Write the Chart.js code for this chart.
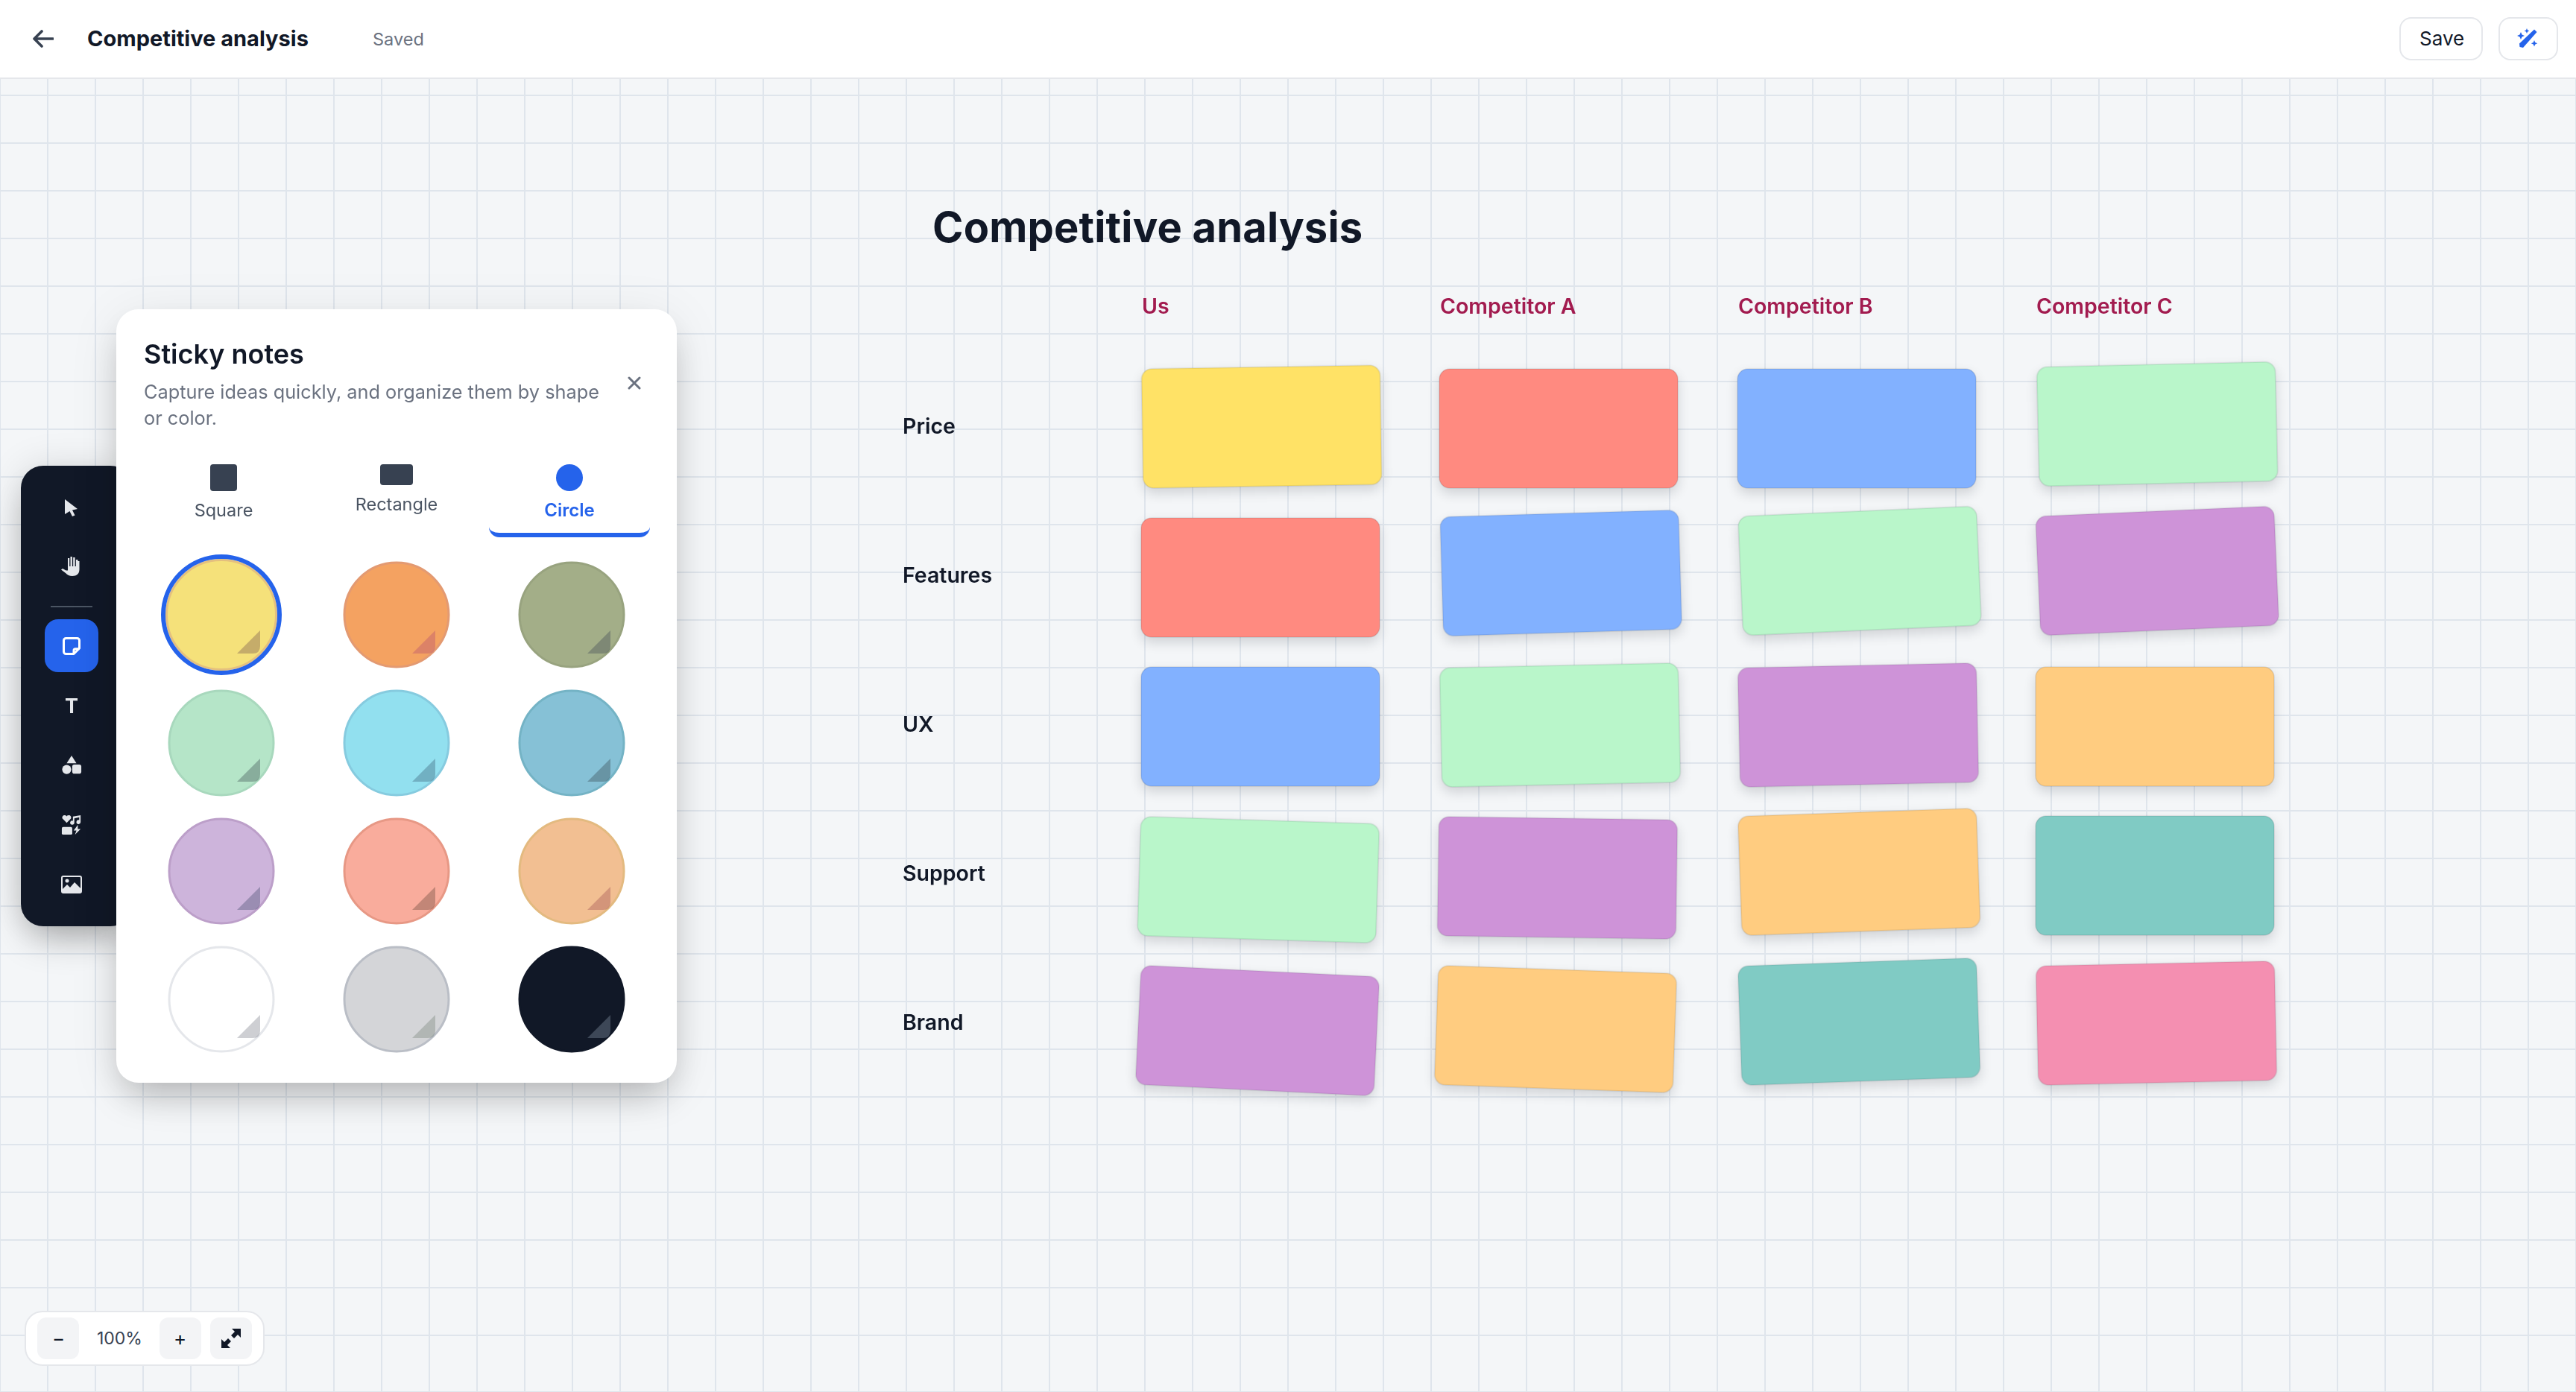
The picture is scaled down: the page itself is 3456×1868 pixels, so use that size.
<!DOCTYPE html>
<html>
<head>
<meta charset="utf-8">
<title>Competitive analysis</title>
<script src="https://cdn.jsdelivr.net/npm/chart.js@4"></script>
<style>
html, body { margin: 0; padding: 0; background: #f4f6f8; overflow: hidden; font-family: Inter, sans-serif; }
#stage { position: relative; width: 3456px; height: 1868px; overflow: hidden; }
#stage div, #stage span, #stage svg { position: absolute; }
#board { position: absolute; left: 0; top: 0; }
#topbar { left: 0; top: 0; width: 3456px; height: 104px; background: #fff; border-bottom: 2px solid #e5e7eb; }
.t { white-space: nowrap; line-height: 1; }
#panel { left: 156px; top: 415px; width: 752px; height: 1038px; background: #fff; border-radius: 30px; box-shadow: 0 25px 50px -12px rgba(0,0,0,.25), 0 10px 70px rgba(0,0,0,.08); }
#tools { left: 28px; top: 625px; width: 150px; height: 618px; background: #111827; border-radius: 30px; box-shadow: 0 25px 50px -12px rgba(0,0,0,.3), 0 0 50px rgba(0,0,0,.12); }
#swatchCanvas { position: absolute; left: 0; top: 315px; }
.btn { background: #fff; border: 2px solid #e5e7eb; border-radius: 16px; box-sizing: border-box; }
.zbtn { background: #f3f4f6; border-radius: 12px; width: 56px; height: 56px; top: 7px; }
</style>
</head>
<body>
<div id="stage">
  <canvas id="board" width="3456" height="1868"></canvas>

  <div class="t" style="left:1251px;top:277px;font-size:56px;font-weight:700;color:#111827;letter-spacing:0.2px" id="boardTitle">Competitive analysis</div>

  <div id="topbar">
    <svg style="left:44px;top:40px" width="28" height="24" viewBox="0 0 28 24" fill="none" stroke="#374151" stroke-width="3.6" stroke-linecap="round" stroke-linejoin="round"><path d="M27 12H3M12 2L2 12l10 10"/></svg>
    <span class="t" style="left:117px;top:37px;font-size:29px;font-weight:700;color:#111827">Competitive analysis</span>
    <span class="t" style="left:500px;top:41px;font-size:23.500px;color:#6b7280">Saved</span>
    <div class="btn" style="left:3219px;top:23px;width:112px;height:58px"></div>
    <span class="t" style="left:3246px;top:39px;font-size:26px;color:#111827">Save</span>
    <div class="btn" style="left:3352px;top:23px;width:80px;height:58px"></div>
    <svg style="left:3376px;top:37px" width="30" height="30" viewBox="0 0 30 30" fill="#2563eb"><path d="M24 2.5l3.5 3.5L9 27l-4.5-1-.5-4.500z"/><path d="M6 6l1.5 3.5L11 11l-3.500 1.500L6 16l-1.500-3.500L1 11l3.500-1.500zM14 1l1 2.500L17.500 4.500 15 5.500 14 8l-1-2.500-2.500-1 2.500-1zM24 17l1.300 3 3 1.300-3 1.300-1.300 3-1.300-3-3-1.300 3-1.300z"/></svg>
  </div>

  <div id="tools">
    <svg style="left:58px;top:44px" width="20" height="26" viewBox="0 0 20 26" fill="#e5e7eb"><path d="M1 1l17 13-7 1.500 3.500 7-3.500 1.500-3.500-7L1 21z"/></svg>
    <svg style="left:54px;top:121px" width="28" height="28" viewBox="0 0 28 28" fill="#e5e7eb"><path d="M9 3h2.200v11h1.300V1h2.400v13h1.300V2h2.400v12h1.300V5h2.600v2h2v11c0 6-3.500 9-9.500 9-4 0-6.500-1.500-9-4L0 18.500 2 17l4.500 2.500H9z"/></svg>
    <div style="left:40px;top:188px;width:56px;height:2px;background:#4b5563"></div>
    <div style="left:32px;top:206px;width:72px;height:71px;background:#2563eb;border-radius:18px"></div>
    <svg style="left:56px;top:230px" width="24" height="24" viewBox="0 0 32 32" fill="none" stroke="#fff" stroke-width="4" stroke-linejoin="round"><path d="M6 2h20a4 4 0 0 1 4 4v14l-10 10H6a4 4 0 0 1-4-4V6a4 4 0 0 1 4-4z"/><path d="M20 30v-6a3 3 0 0 1 3-3h7"/></svg>
    <span class="t" style="left:59px;top:309px;font-size:27px;font-weight:700;color:#e5e7eb">T</span>
    <svg style="left:54px;top:388px" width="28" height="28" viewBox="0 0 28 30" fill="#e5e7eb"><path d="M14 1l7 11H7z"/><circle cx="7" cy="21" r="6.500"/><rect x="15" y="14" width="13" height="13" rx="3"/></svg>
    <svg style="left:54px;top:468px" width="28" height="28" viewBox="0 0 28 30" fill="#e5e7eb"><path d="M7 12L1 6c-1-2 0-5 3-5 2 0 3 1 3 2 0-1 1-2 3-2 3 0 4 3 3 5z"/><path d="M16 3l11-2v10a3 3 0 1 1-2-3V4l-7 1.500V12a3 3 0 1 1-2-3z"/><rect x="0" y="18" width="15" height="11" rx="2"/><path d="M23 15l-6 8h4l-2 6 8-8h-4z"/></svg>
    <svg style="left:54px;top:550px" width="28" height="24" viewBox="0 0 28 24" fill="#e5e7eb"><path fill-rule="evenodd" d="M3 0h22a3 3 0 0 1 3 3v18a3 3 0 0 1-3 3H3a3 3 0 0 1-3-3V3a3 3 0 0 1 3-3zm0 2a1 1 0 0 0-1 1v15l6-6 4 4 6-7 8 8V3a1 1 0 0 0-1-1z"/><circle cx="8" cy="7" r="2.500"/></svg>
  </div>

  <div id="panel">
    <span class="t" style="left:37px;top:42px;font-size:36px;font-weight:600;color:#111827">Sticky notes</span>
    <span class="t" style="left:37px;top:93px;font-size:25.300px;line-height:35px;color:#6b7280">Capture ideas quickly, and organize them by shape<br>or color.</span>
    <svg style="left:686px;top:90px" width="18" height="18" viewBox="0 0 18 18" stroke="#6b7280" stroke-width="3" stroke-linecap="round"><path d="M2 2l14 14M16 2L2 16"/></svg>
    <div style="left:126px;top:208px;width:36px;height:36px;background:#374151;border-radius:4px"></div>
    <div style="left:354px;top:208px;width:44px;height:28px;background:#374151;border-radius:4px"></div>
    <div style="left:590px;top:208px;width:36px;height:36px;background:#2563eb;border-radius:50%"></div>
    <span class="t" style="left:91px;top:258px;width:106px;text-align:center;font-size:23.500px;color:#4b5563">Square</span>
    <span class="t" style="left:316px;top:250px;width:120px;text-align:center;font-size:23.500px;color:#4b5563">Rectangle</span>
    <span class="t" style="left:558px;top:258px;width:100px;text-align:center;font-size:24px;font-weight:600;color:#2563eb">Circle</span>
    <div style="left:500px;top:286px;width:216px;height:20px;box-sizing:border-box;border-bottom:6px solid #2563eb;border-radius:0 0 14px 14px"></div>
    <canvas id="swatchCanvas" width="752" height="723"></canvas>
  </div>

  <div style="left:33px;top:1759px;width:322px;height:74px;background:#fff;border:2px solid #e5e7eb;border-radius:24px;box-sizing:border-box">
    <div class="zbtn" style="left:15px"></div>
    <div class="zbtn" style="left:179px"></div>
    <div class="zbtn" style="left:247px"></div>
    <span class="t" style="left:35px;top:22px;font-size:26px;color:#111827">−</span>
    <span class="t" style="left:95px;top:24px;font-size:23px;color:#374151">100%</span>
    <span class="t" style="left:198px;top:22px;font-size:26px;color:#111827">+</span>
    <svg style="left:261px;top:21px" width="28" height="28" viewBox="0 0 28 28" fill="#111827"><path d="M15 1h12v12l-4-4-5 5-4-4 5-5zM13 27H1V15l4 4 5-5 4 4-5 5z"/></svg>
  </div>
</div>

<script>
// board
const categories = ['Us', 'Competitor A', 'Competitor B', 'Competitor C'];
const rows = ['Price', 'Features', 'UX', 'Support', 'Brand'];

const palette = {
  yellow: '#ffe266', red: '#ff8a80', blue: '#82b1ff', green: '#b9f6ca',
  purple: '#ce93d8', orange: '#ffcc80', teal: '#80cbc4', pink: '#f48fb1'
};

// one list per column, top to bottom
const usColor = ['yellow', 'red', 'blue', 'green', 'purple'];
const aColor = ['red', 'blue', 'green', 'purple', 'orange'];
const bColor = ['blue', 'green', 'purple', 'orange', 'teal'];
const cColor = ['green', 'purple', 'orange', 'teal', 'pink'];

// where each note ended up, 1 unit = one column / one row
const usX = [0.004, 0, 0, -0.007, -0.01];
const aX = [1, 1.008, 1.005, 0.996, 0.99];
const bX = [2, 2.01, 2.005, 2.008, 2.008];
const cX = [3.008, 3.008, 3, 3, 3.005];
const usY = [-0.012, 1, 2, 3.028, 4.04];
const aY = [0, 0.97, 1.99, 3.015, 4.03];
const bY = [0, 0.955, 1.99, 2.975, 3.98];
const cY = [-0.03, 0.955, 2, 3, 3.99];

// tilt in degrees
const usTilt = [-0.9, 0, 0, 1.8, 2.8];
const aTilt = [0, -1.7, -1.2, 0.8, 2];
const bTilt = [0, -2.5, -1.2, -2, -2];
const cTilt = [-1.3, -2.5, 0, 0, -1.2];

// swatches in the panel, left to right
const swatchFill = ['#f5e17a', '#f4a261', '#a3ae88', '#b5e5c8', '#92e0ef', '#86c1d6', '#cdb4db', '#f9ac9c', '#f2bf92', '#ffffff', '#d4d5d8', '#111827'];
const swatchEdge = ['#e4c07e', '#e39a72', '#98a37f', '#a8d8bd', '#86cbdf', '#74b3c5', '#bc9fc9', '#e79885', '#e3ba80', '#e5e7eb', '#babec6', '#111827'];
const swatchFold = ['rgba(150,120,90,.5)', 'rgba(190,90,110,.45)', 'rgba(70,80,90,.4)', 'rgba(70,90,90,.4)', 'rgba(70,110,130,.42)', 'rgba(60,80,90,.4)', 'rgba(70,80,110,.38)', 'rgba(120,80,70,.42)', 'rgba(170,90,90,.42)', 'rgba(60,65,80,.25)', 'rgba(70,90,70,.25)', '#3d4757'];
const swatchSize = [73.5, 70, 70, 70, 70, 70, 70, 70, 70, 70, 70, 70];

function noteImage(color) {
  const pad = 30, w = 320, h = 160;
  const c = document.createElement('canvas');
  c.width = w + pad * 2;
  c.height = h + pad * 2;
  const g = c.getContext('2d');
  g.beginPath();
  g.roundRect(pad, pad, w, h, 14);
  g.shadowColor = 'rgba(17,24,39,.16)';
  g.shadowBlur = 16;
  g.shadowOffsetY = 7;
  g.fillStyle = color;
  g.fill();
  g.shadowColor = 'transparent';
  g.strokeStyle = 'rgba(17,24,39,.11)';
  g.lineWidth = 1.5;
  g.stroke();
  return c;
}

function swatchImage(fill, edge, fold, r) {
  const c = document.createElement('canvas');
  c.width = c.height = 160;
  const g = c.getContext('2d');
  g.translate(80, 80);
  g.beginPath();
  g.arc(0, 0, r, 0, Math.PI * 2);
  g.fillStyle = fill;
  g.fill();
  g.strokeStyle = edge;
  g.lineWidth = 3;
  g.stroke();
  g.beginPath();
  g.moveTo(21, 52);
  g.lineTo(52, 21);
  g.lineTo(52, 42);
  g.quadraticCurveTo(52, 52, 42, 52);
  g.closePath();
  g.fillStyle = fold;
  g.fill();
  return c;
}

const noteImages = {};
Object.keys(palette).forEach(k => { noteImages[k] = noteImage(palette[k]); });

function column(label, xs, ys, tilts, colors) {
  return {
    label: label,
    xAxisID: 'x',
    yAxisID: 'y',
    data: xs.map((x, i) => ({ x: x, y: ys[i] })),
    rotation: tilts,
    pointStyle: colors.map(k => noteImages[k]),
    showLine: false,
    clip: false
  };
}

const bgGrid = { color: '#dfe5ec', lineWidth: 2, drawTicks: false };
const hiddenAxis = (min, max, reverse) => ({ type: 'linear', display: false, min: min, max: max, reverse: reverse });

// mirrored labels must not push the chart area in
function noLayoutSpace(s) {
  s.width = s.isHorizontal() ? s.width : 0;
  s.height = s.isHorizontal() ? 0 : s.height;
  s.paddingLeft = s.paddingRight = s.paddingTop = s.paddingBottom = 0;
}

new Chart(document.getElementById('board'), {
  type: 'scatter',
  data: {
    datasets: [
      column(categories[0], usX, usY, usTilt, usColor),
      column(categories[1], aX, aY, aTilt, aColor),
      column(categories[2], bX, bY, bTilt, bColor),
      column(categories[3], cX, cY, cTilt, cColor)
    ]
  },
  options: {
    responsive: false,
    animation: false,
    layout: { padding: 0, autoPadding: false },
    plugins: { legend: { display: false }, tooltip: { enabled: false } },
    scales: {
      // the paper grid behind everything
      gridX: {
        type: 'linear', position: 'bottom', min: 0, max: 3456,
        grid: bgGrid, border: { display: false },
        ticks: { display: false, stepSize: 64, maxTicksLimit: 100, autoSkip: false }
      },
      gridY: {
        type: 'linear', position: 'left', min: 0, max: 1868, reverse: true,
        grid: bgGrid, border: { display: false },
        ticks: { display: false, stepSize: 64, maxTicksLimit: 100, autoSkip: false }
      },
      x: hiddenAxis(-1691 / 400, (3456 - 1691) / 400, false),
      y: hiddenAxis(-575 / 200, (1868 - 575) / 200, true),
      // column headers, tick sits on the left edge of the column
      headX: {
        type: 'linear', position: 'top',
        min: -1532 / 400, max: (3456 - 1532) / 400,
        grid: { display: false, drawTicks: false }, border: { display: false },
        afterBuildTicks: s => { s.ticks = categories.map((c, i) => ({ value: i })); },
        afterFit: noLayoutSpace,
        ticks: {
          mirror: true, padding: 395, align: 'start', autoSkip: false, maxRotation: 0, minRotation: 0,
          color: '#a21b4f', font: { family: 'Inter', size: 28.5, weight: 600 },
          callback: v => categories[v]
        }
      },
      // row names
      headY: {
        type: 'linear', position: 'left', reverse: true,
        min: -573 / 200, max: (1868 - 573) / 200,
        grid: { display: false, drawTicks: false }, border: { display: false },
        afterBuildTicks: s => { s.ticks = rows.map((r, i) => ({ value: i })); },
        afterFit: noLayoutSpace,
        ticks: {
          mirror: true, padding: 1211, autoSkip: false,
          color: '#111827', font: { family: 'Inter', size: 28.5, weight: 600 },
          callback: v => rows[v]
        }
      }
    }
  }
});

// swatch grid inside the panel
new Chart(document.getElementById('swatchCanvas'), {
  type: 'scatter',
  data: {
    datasets: [
      {
        label: 'selected',
        data: [{ x: 0, y: 0 }],
        pointStyle: 'circle',
        radius: 78,
        backgroundColor: 'transparent',
        borderColor: '#2563eb',
        borderWidth: 6,
        clip: false
      },
      {
        label: 'swatches',
        data: swatchFill.map((f, i) => ({ x: i % 3, y: Math.floor(i / 3) })),
        pointStyle: swatchFill.map((f, i) => swatchImage(f, swatchEdge[i], swatchFold[i], swatchSize[i])),
        clip: false
      }
    ]
  },
  options: {
    responsive: false,
    animation: false,
    layout: { padding: 0, autoPadding: false },
    plugins: { legend: { display: false }, tooltip: { enabled: false } },
    scales: {
      x: hiddenAxis(-141 / 235, (752 - 141) / 235, false),
      y: hiddenAxis(-95 / 172, (723 - 95) / 172, true)
    }
  }
});
</script>
</body>
</html>
